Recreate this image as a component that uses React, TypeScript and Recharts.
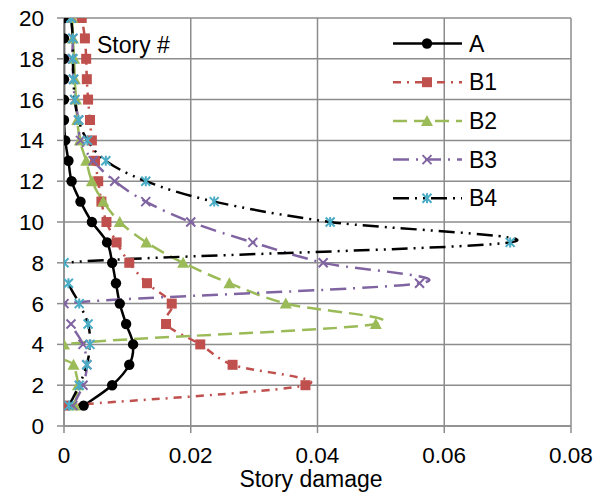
import { LineChart, Line, XAxis, YAxis, CartesianGrid, Legend } from "recharts";

const stories = [1, 2, 3, 4, 5, 6, 7, 8, 9, 10, 11, 12, 13, 14, 15, 16, 17, 18, 19, 20];

const damageA = [0.0031, 0.0076, 0.0103, 0.0109, 0.0098, 0.0088, 0.0082, 0.0076, 0.0068, 0.0044, 0.0026, 0.0012, 0.0007, 0.0002, 0, 0, 0, 0, 0, 0];
const damageB1 = [0, 0.0381, 0.0266, 0.0215, 0.0161, 0.017, 0.0131, 0.0103, 0.0083, 0.0067, 0.0059, 0.0054, 0.0049, 0.0044, 0.0041, 0.0038, 0.0036, 0.0035, 0.0033, 0.0028];
const damageB2 = [0.0017, 0.0022, 0.0015, 0, 0.0492, 0.035, 0.0261, 0.0188, 0.013, 0.0088, 0.0062, 0.0044, 0.0035, 0.0025, 0.0021, 0.0019, 0.0017, 0.0016, 0.0014, 0.0013];
const damageB3 = [0.0014, 0.003, 0.0036, 0.003, 0.0011, 0, 0.0561, 0.0409, 0.0298, 0.02, 0.0129, 0.008, 0.0046, 0.0026, 0.0023, 0.0017, 0.0015, 0.0013, 0.0014, 0.0012];
const damageB4 = [0.0008, 0.0024, 0.0036, 0.0041, 0.0038, 0.0024, 0.0007, 0, 0.0704, 0.042, 0.0237, 0.0129, 0.0066, 0.0037, 0.0023, 0.0017, 0.0015, 0.0014, 0.0014, 0.0011];

const xTicks = [0, 0.02, 0.04, 0.06, 0.08];
const yTicks = [0, 2, 4, 6, 8, 10, 12, 14, 16, 18, 20];

const GRID = "#8c8c8c";
const FONT = 23;
const TICK_FONT = 22.5;

// Excel-like smoothed line (catmull-rom through the points)
function excelSmooth(context: any) {
  let pts: number[][] = [];
  return {
    areaStart() {},
    areaEnd() {},
    lineStart() {
      pts = [];
    },
    point(x: number, y: number) {
      pts.push([+x, +y]);
    },
    lineEnd() {
      const n = pts.length;
      if (!n) return;
      context.moveTo(pts[0][0], pts[0][1]);
      for (let i = 0; i < n - 1; i++) {
        const p0 = pts[Math.max(i - 1, 0)];
        const p1 = pts[i];
        const p2 = pts[i + 1];
        const p3 = pts[Math.min(i + 2, n - 1)];
        context.bezierCurveTo(
          p1[0] + (p2[0] - p0[0]) / 6,
          p1[1] + (p2[1] - p0[1]) / 6,
          p2[0] - (p3[0] - p1[0]) / 6,
          p2[1] - (p3[1] - p1[1]) / 6,
          p2[0],
          p2[1]
        );
      }
    },
  };
}

type Marker = (cx: number, cy: number, key?: any) => JSX.Element;

const circle: Marker = (cx, cy, key) => <circle key={key} cx={cx} cy={cy} r={5.2} fill="#000" />;
const square: Marker = (cx, cy, key) => (
  <rect key={key} x={cx - 5} y={cy - 5} width={10} height={10} fill="#C0504D" />
);
const triangle: Marker = (cx, cy, key) => (
  <path key={key} d={`M${cx},${cy - 6}L${cx + 6},${cy + 5}L${cx - 6},${cy + 5}Z`} fill="#9BBB59" />
);
const cross: Marker = (cx, cy, key) => (
  <path key={key} d={`M${cx - 4.5},${cy - 4.5}L${cx + 4.5},${cy + 4.5}M${cx - 4.5},${cy + 4.5}L${cx + 4.5},${cy - 4.5}`} stroke="#8064A2" strokeWidth={2} />
);
const star: Marker = (cx, cy, key) => (
  <path
    key={key}
    d={`M${cx - 4.5},${cy - 4.5}L${cx + 4.5},${cy + 4.5}M${cx - 4.5},${cy + 4.5}L${cx + 4.5},${cy - 4.5}M${cx},${cy - 5}L${cx},${cy + 5}`}
    stroke="#4BACC6"
    strokeWidth={2}
  />
);

const series = [
  { name: "A", values: damageA, stroke: "#000", dash: undefined, marker: circle },
  { name: "B1", values: damageB1, stroke: "#C0504D", dash: "8 6 2 6", marker: square },
  { name: "B2", values: damageB2, stroke: "#9BBB59", dash: "14 7", marker: triangle },
  { name: "B3", values: damageB3, stroke: "#8064A2", dash: "16 7 2 7", marker: cross },
  { name: "B4", values: damageB4, stroke: "#000", dash: "16 6 2 6 2 6", marker: star },
];

const fmtX = (v: number) => (v === 0 ? "0" : v.toFixed(2));

function LegendBox() {
  return (
    <svg width={200} height={200} style={{ display: "block" }}>
      {series.map((s, i) => {
        const y = 23.5 + i * 38.7;
        return (
          <g key={s.name}>
            <line x1={8} x2={77} y1={y} y2={y} stroke={s.stroke} strokeWidth={2.5} strokeDasharray={s.dash} />
            {s.marker(42, y)}
            <text x={84} y={y + 8} fontSize={FONT} fill="#000">
              {s.name}
            </text>
          </g>
        );
      })}
    </svg>
  );
}

export default function App() {
  return (
    <div style={{ position: "absolute", left: 0, top: 0, fontFamily: "'Liberation Sans', Arial, sans-serif" }}>
      <LineChart width={603} height={495} margin={{ top: 18, right: 32, bottom: 0, left: 0 }}>
        <CartesianGrid stroke={GRID} strokeWidth={1.5} />
        <XAxis
          type="number"
          dataKey="dmg"
          domain={[0, 0.08]}
          ticks={xTicks}
          tickFormatter={fmtX}
          height={69}
          tickSize={7}
          tickMargin={14}
          stroke={GRID}
          strokeWidth={1.5}
          tick={{ fill: "#000", fontSize: TICK_FONT }}
          label={{
            value: "Story damage",
            content: () => (
              <text x={311} y={487} textAnchor="middle" fontSize={FONT} fill="#000">
                Story damage
              </text>
            ),
          }}
          allowDataOverflow
        />
        <YAxis
          type="number"
          domain={[0, 20]}
          ticks={yTicks}
          width={64}
          tickSize={7}
          tickMargin={13}
          stroke={GRID}
          strokeWidth={1.5}
          tick={{ fill: "#000", fontSize: TICK_FONT }}
          label={{
            value: "Story #",
            content: () => (
              <text x={97} y={53} fontSize={FONT} fill="#000">
                Story #
              </text>
            ),
          }}
          allowDataOverflow
        />
        {series.map((s) => (
          <Line
            key={s.name}
            name={s.name}
            data={stories.map((st, i) => ({ story: st, dmg: s.values[i] }))}
            dataKey="story"
            type={excelSmooth as any}
            stroke={s.stroke}
            strokeWidth={2.5}
            strokeDasharray={s.dash}
            dot={(p: any) => s.marker(p.cx, p.cy, p.index)}
            activeDot={false}
            isAnimationActive={false}
          />
        ))}
        <Legend
          layout="horizontal"
          verticalAlign="middle"
          align="center"
          wrapperStyle={{ left: 385, top: 20, width: 200, height: 200 }}
          content={() => <LegendBox />}
        />
      </LineChart>
    </div>
  );
}
